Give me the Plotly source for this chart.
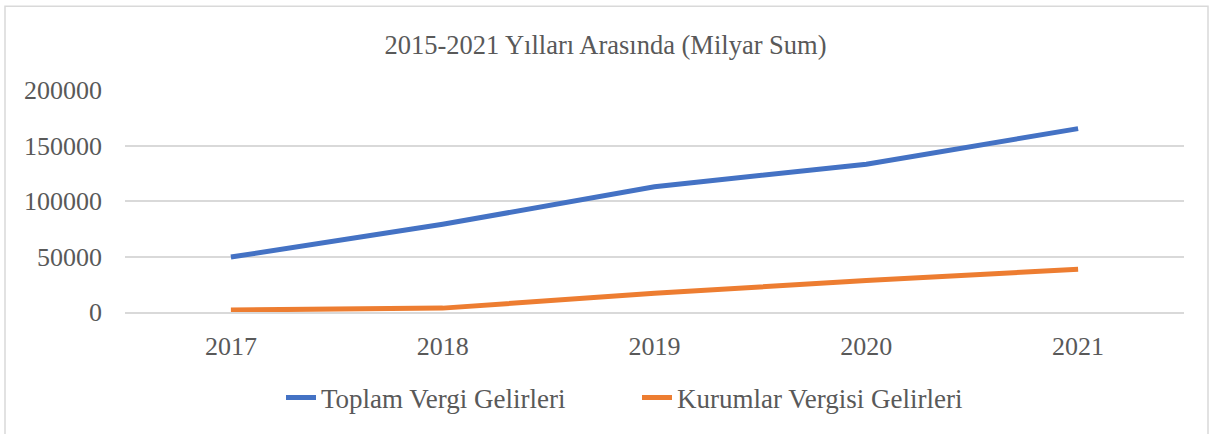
import plotly.graph_objects as go

years = ["2017", "2018", "2019", "2020", "2021"]
toplam = [49500, 79000, 112800, 133200, 165200]
kurumlar = [1800, 3500, 16900, 28400, 38500]
y_ticks = [0, 50000, 100000, 150000, 200000]

W, H = 1211, 434
ml, mr, mt, mb = 125, 27, 90, 119
pw, ph = W - ml - mr, H - mt - mb

font = "Liberation Serif"
fig = go.Figure()
fig.add_trace(go.Scatter(x=years, y=toplam, mode="lines", name="Toplam Vergi Gelirleri",
                         line=dict(color="#4472C4", width=5)))
fig.add_trace(go.Scatter(x=years, y=kurumlar, mode="lines", name="Kurumlar Vergisi Gelirleri",
                         line=dict(color="#ED7D31", width=5)))

def px(x):
    return (x - ml) / pw

def py(y):
    return (H - mb - y) / ph

fig.add_shape(type="rect", xref="paper", yref="paper",
              x0=px(5), x1=px(1208), y0=py(5), y1=py(440),
              line=dict(color="#D9D9D9", width=1.5), fillcolor="rgba(0,0,0,0)", layer="below")

fig.update_layout(
    width=W, height=H,
    margin=dict(l=ml, r=mr, t=mt, b=mb),
    paper_bgcolor="white", plot_bgcolor="white",
    font=dict(family=font, color="#595959", size=26),
    title=dict(text="2015-2021 Yılları Arasında (Milyar Sum)", x=0.5, xanchor="center",
               y=1 - 45 / H, yanchor="middle", font=dict(size=26.5, color="#595959", family=font)),
    showlegend=True,
    legend=dict(orientation="h", x=px(281), xanchor="left", y=py(402), yanchor="middle",
                font=dict(size=27, color="#595959", family=font),
                entrywidth=311, entrywidthmode="pixels",
                bgcolor="rgba(0,0,0,0)"),
    xaxis=dict(type="category", range=[-0.5, 4.5], showgrid=False, showline=True,
               linecolor="#D9D9D9", linewidth=1.5, ticks="",
               tickfont=dict(size=26, color="#595959", family=font),
               ticklabelstandoff=10, zeroline=False),
    yaxis=dict(range=[0, 200000], tickvals=y_ticks, ticktext=[str(v) for v in y_ticks],
               showgrid=True, gridcolor="#D9D9D9", gridwidth=1.5, zeroline=False, showline=False,
               ticks="", tickfont=dict(size=26, color="#595959", family=font),
               ticklabelstandoff=22),
)

fig.write_html("out.html", config={"displayModeBar": False},
               post_script="document.body.style.margin='0';")
